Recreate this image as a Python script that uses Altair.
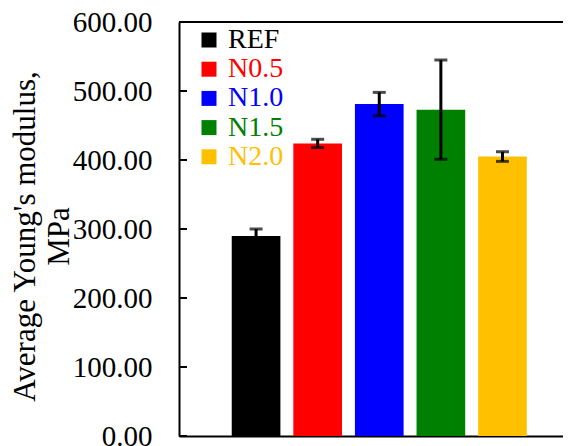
import altair as alt
import pandas as pd

categories = ["REF", "N0.5", "N1.0", "N1.5", "N2.0"]
means = [290, 424, 481, 473, 405]
errors = [10, 6, 17, 72, 7]
colors = ["#000000", "#ff0000", "#0000ff", "#008000", "#ffc000"]
y_ticks = [0, 100, 200, 300, 400, 500, 600]

W, H = 384, 414
FONT = "Liberation Serif"

df = pd.DataFrame({"cat": categories, "mean": means, "err": errors})
df["lo"] = df["mean"] - df["err"]
df["hi"] = df["mean"] + df["err"]
tick_df = pd.DataFrame({"v": y_ticks})

xscale = alt.Scale(domain=categories, paddingInner=0.21, paddingOuter=0.722, align=0.593)
yscale = alt.Scale(domain=[0, 600], nice=False)

color_expr = ("datum.label == 'REF' ? '#000000' : datum.label == 'N0.5' ? '#ff0000' : "
              "datum.label == 'N1.0' ? '#0000ff' : datum.label == 'N1.5' ? '#008000' : '#ffc000'")

base = alt.Chart(df)

bars = base.mark_bar().encode(
    x=alt.X("cat:N", scale=xscale, sort=categories,
            axis=alt.Axis(labels=False, ticks=False, title=None, domain=True,
                          domainColor="black", domainWidth=2)),
    y=alt.Y("mean:Q", scale=yscale,
            axis=alt.Axis(values=y_ticks, format=".2f", ticks=False, tickSize=0,
                          labelPadding=27, labelFont=FONT, labelFontSize=29,
                          labelColor="black", domainColor="black", domainWidth=2,
                          grid=False,
                          title=["Average Young's modulus,", "MPa"],
                          titleFont=FONT, titleFontSize=31, titleFontWeight="normal",
                          titleColor="black", titleAngle=-90, titleAlign="center",
                          titleBaseline="middle", titleLineHeight=34,
                          titleX=-154, titleY=214)),
    color=alt.Color("cat:N", scale=alt.Scale(domain=categories, range=colors),
                    legend=alt.Legend(title=None, orient="none", legendX=16, legendY=4,
                                      symbolType="square", symbolSize=225,
                                      symbolStrokeWidth=0, symbolOpacity=1,
                                      labelFont=FONT, labelFontSize=28,
                                      labelColor=alt.ExprRef(expr=color_expr),
                                      labelOffset=5, rowPadding=1.2)),
)

err_rule = base.mark_rule(color="black", strokeWidth=3).encode(
    x=alt.X("cat:N", scale=xscale, sort=categories),
    y=alt.Y("lo:Q", scale=yscale),
    y2="hi:Q",
)
cap_lo = base.mark_tick(color="black", size=13, thickness=3, orient="horizontal").encode(
    x=alt.X("cat:N", scale=xscale, sort=categories),
    y=alt.Y("lo:Q", scale=yscale),
)
cap_hi = base.mark_tick(color="black", size=13, thickness=3, orient="horizontal").encode(
    x=alt.X("cat:N", scale=xscale, sort=categories),
    y=alt.Y("hi:Q", scale=yscale),
)

inner_ticks = alt.Chart(tick_df).mark_rule(color="black", strokeWidth=2).encode(
    y=alt.Y("v:Q", scale=yscale),
    x=alt.value(0),
    x2=alt.value(8),
)

top_border = alt.Chart(tick_df).mark_rule(color="black", strokeWidth=2).encode(
    y=alt.value(0),
    x=alt.value(0),
    x2=alt.value(W),
)

chart = alt.layer(bars, err_rule, cap_lo, cap_hi, inner_ticks, top_border).properties(
    width=W, height=H,
    autosize=alt.AutoSizeParams(type="none"),
    padding={"left": 171, "top": 14, "right": 0, "bottom": 10},
).configure_view(stroke=None).configure(background="white")

chart.save("out.html", embed_options={"renderer": "svg", "actions": False})
